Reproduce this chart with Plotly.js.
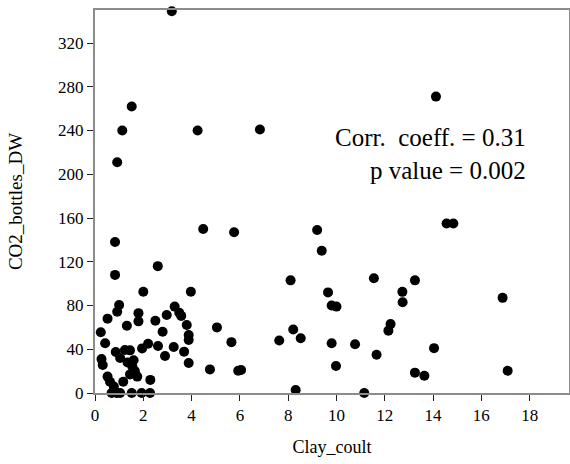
<!DOCTYPE html>
<html>
<head>
<meta charset="utf-8">
<script src="https://cdn.plot.ly/plotly-3.0.1.min.js"></script>
<style>html,body{margin:0;padding:0;background:#fff;}#chart{width:570px;height:464px;}</style>
</head>
<body>
<div id="chart"></div>
<script>
// Clay content (x) and CO2 bottles DW (y)
const clayCoult = [
  3.18, 1.52, 1.13, 4.25, 6.83, 0.92, 14.12, 4.48, 5.76, 0.83,
  9.2, 9.39, 14.56, 14.84, 2.6, 0.83, 8.1, 11.55, 13.25, 9.65,
  12.73, 12.74, 9.8, 10.0, 16.88, 8.21, 8.52, 7.63, 9.8, 9.98,
  6.05, 8.31, 12.24, 12.15, 10.77, 11.66, 14.04, 13.25, 13.64, 11.15,
  17.09,
  2.0, 3.97, 1.0, 0.92, 0.52, 1.8, 1.8, 1.32, 2.5, 2.97,
  3.3, 3.49, 3.57, 3.8, 3.88, 3.88, 2.8, 0.24, 0.42, 5.05,
  5.65, 4.76, 5.93, 3.88, 3.69, 3.26, 2.9, 2.61, 2.2, 1.95,
  0.27, 0.32, 0.86, 1.04, 1.24, 1.45, 1.35, 1.55, 1.65, 1.45,
  1.75, 1.6, 2.29, 0.52, 0.62, 1.17, 0.78,
  0.69, 0.9, 1.04, 1.52, 1.93, 2.28
];
const co2BottlesDW = [
  349, 262, 240, 240, 241, 211, 271, 150, 147, 138,
  149, 130, 155, 155, 116, 108, 103, 105, 103, 92,
  92.5, 83, 80, 79, 87, 58, 50, 48, 45.5, 24.7,
  21, 2.7, 63, 57, 44.5, 35, 41, 18.6, 15.8, 0,
  20.4,
  92.6, 92.6, 80.5, 74.3, 68, 73, 65.5, 61.5, 66, 71.3,
  79, 73.4, 70.5, 62.2, 53, 48.5, 56, 55.5, 45.5, 60,
  46.5, 21.6, 20.4, 27.5, 37.8, 42, 33.8, 43, 45, 40.8,
  31, 25.6, 37.5, 32, 39.3, 39, 28, 24, 20, 17,
  15, 30, 12, 15, 10.3, 10.3, 6,
  0, 0, 0, 0, 0, 0
];
const xTickVals = [0, 2, 4, 6, 8, 10, 12, 14, 16, 18];
const yTickVals = [0, 40, 80, 120, 160, 200, 240, 280, 320];
const annotationText = "Corr.  coeff. = 0.31<br>p value = 0.002";

const serif = '"Liberation Serif", "Times New Roman", Times, serif';

const trace = {
  x: clayCoult,
  y: co2BottlesDW,
  type: "scatter",
  mode: "markers",
  marker: {color: "#000000", size: 10, line: {width: 0}},
  cliponaxis: false,
  hoverinfo: "x+y"
};

const layout = {
  width: 570,
  height: 464,
  margin: {l: 95, r: 1, t: 10, b: 71},
  paper_bgcolor: "#ffffff",
  plot_bgcolor: "#ffffff",
  showlegend: false,
  font: {family: serif, color: "#000000", size: 16},
  xaxis: {
    range: [0, 19.63],
    tickvals: xTickVals,
    ticktext: xTickVals.map(String),
    ticks: "outside",
    ticklen: 6,
    tickwidth: 1,
    tickcolor: "#222222",
    showline: true,
    linecolor: "#8c8c8c",
    linewidth: 2,
    mirror: true,
    showgrid: false,
    zeroline: false,
    tickfont: {family: serif, size: 17, color: "#000000"},
    title: {text: "Clay_coult", font: {family: serif, size: 18, color: "#000000"}, standoff: 16}
  },
  yaxis: {
    range: [0, 350.2],
    tickvals: yTickVals,
    ticktext: yTickVals.map(String),
    ticks: "outside",
    ticklen: 6,
    tickwidth: 1,
    tickcolor: "#222222",
    showline: true,
    linecolor: "#8c8c8c",
    linewidth: 2,
    mirror: true,
    showgrid: false,
    zeroline: false,
    tickfont: {family: serif, size: 17, color: "#000000"},
    title: {text: "CO2_bottles_DW", font: {family: serif, size: 19, color: "#000000"}, standoff: 30}
  },
  annotations: [{
    x: 17.93,
    y: 218.5,
    xref: "x",
    yref: "y",
    xanchor: "right",
    yanchor: "middle",
    align: "right",
    showarrow: false,
    text: annotationText,
    font: {family: serif, size: 25, color: "#000000"}
  }]
};

Plotly.newPlot("chart", [trace], layout, {displayModeBar: false, staticPlot: true});
</script>
</body>
</html>
